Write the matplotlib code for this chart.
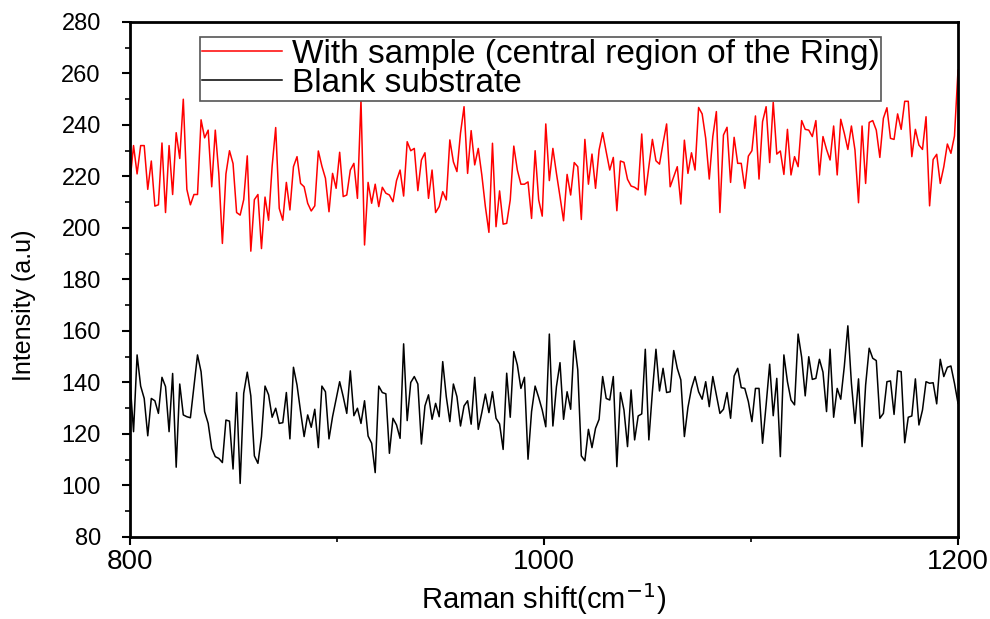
# -*- coding: utf-8 -*-
# Raman spectra: sample (central region of the ring) vs blank substrate

import numpy as np
import matplotlib
matplotlib.use('Agg')
import matplotlib.pyplot as plt
from matplotlib.ticker import MultipleLocator

shift_start = 800
shift_stop = 1200

sample_intensity = [
    218, 232, 221, 232, 232, 215, 226, 208.5, 209, 233, 206, 232, 213, 237, 227, 250, 215, 209, 213, 213,
    242, 235, 238, 216, 238, 221, 194, 221, 230, 225, 206, 205, 211, 228, 191, 211, 213, 192,
    212, 203, 224, 239, 207.6, 203, 217.7, 207, 223.8, 227.7, 217.3, 216, 209.6, 206.6, 208.6, 229.9, 224, 219.3, 206.3, 221.2,
    215.4, 229.4, 212.2, 212.8, 222.5, 225.1, 211.5, 249.7, 193.4, 217.7, 209.6, 217, 208.3, 215.8, 213.5, 212.8, 210.2, 218.4, 222.5,
    212.4, 233.5, 230, 230.9, 214.5, 226.4, 229.2, 211.5, 222.5, 206, 208.3, 214.1, 210.9, 234.2, 225.7, 221.9, 236.8, 247.1, 221.2, 237.8,
    224.5, 230.9, 220.6, 208.3, 198.3, 232.9, 200.5, 214.4, 201.5, 201.8, 210.9, 231.8, 222.5, 217, 217, 217.9, 203.7, 230, 210.9,
    204.6, 240.4, 218.4, 230.9, 221.2, 212.2, 202.8, 220.8, 212.8, 225.4, 223.8, 203.3, 234.4, 217, 228.7, 215.4, 230.3, 237, 229.6, 222.5,
    227.4, 206.7, 226, 225.5, 218.9, 216.3, 215.8, 214.8, 236.5, 212.8, 223.8, 234.4, 226.1, 224.8, 232.9, 240.4, 216, 219.9, 223.8, 209.3,
    234.1, 221.2, 229.2, 222.5, 246.8, 244.3, 234.8, 219, 235.5, 245.2, 206, 236.1, 239.1, 217.7, 235.2, 225.1, 225.1, 215.4, 227.9, 230,
    243.5, 219, 241.3, 247.1, 225.4, 248.8, 228.7, 229.9, 220.8, 238.3, 220.6, 227.7, 223.8, 241.7, 238.3, 238, 235.5, 241.7, 220.6, 235.5,
    230.5, 226.4, 239.6, 220.6, 242.2, 236.8, 230.5, 239.6, 230.3, 209.8, 239.6, 217.3, 241, 241.7, 238, 227.4, 242.6, 246.7, 234.8,
    234.4, 244.3, 238.3, 249.2, 249.2, 227.7, 238.3, 232.2, 230.5, 243.2, 208.6, 226.6, 228.6, 217.3, 223.8, 232.6, 229, 235.7, 261.3,
]

blank_intensity = [
    140.7, 120.9, 150.7, 138.6, 133.8, 119.3, 133.8, 132.9, 128, 142, 138.4, 120.9, 143.5, 107.1, 139.4, 127.4, 126.7, 126.3, 138.4,
    150.7, 144.2, 128.7, 124.1, 114.4, 111.2, 110.5, 108.9, 125.4, 125, 106.4, 136.1, 100.8, 135.8, 144, 134.8, 111.5, 108.6, 119,
    138.6, 135.2, 126.5, 130, 124.1, 124.4, 136.1, 118.1, 145.9, 139, 128.7, 119, 127.4, 122.6, 129.6, 114.7, 138.6, 136.4, 118.1, 126.7,
    133.5, 140.3, 134.5, 128, 144.5, 127.1, 130, 124.1, 132.9, 119.2, 116.4, 105, 138.6, 136.1, 135.6, 112.5, 126.1, 123.5, 118.3,
    155, 125.2, 140, 142.3, 139.4, 116.1, 130.9, 135.2, 125.7, 131.9, 126.7, 148.1, 134.5, 124.8, 139.4, 134.5, 123.1, 130.9, 132.9, 123.8,
    142, 121.8, 128.3, 135.5, 128.3, 136.4, 126.1, 123.9, 114, 143.6, 126.5, 152, 146.8, 137.7, 142, 110.2, 128.7, 138.6, 134.2,
    129.3, 122.8, 158.8, 123.1, 138.4, 147.7, 125.7, 136.4, 129.6, 156.2, 144.9, 111.5, 109.6, 121.8, 114.7, 122.2, 125.7, 142.3, 133.8, 133.2,
    142.3, 107.3, 136.1, 129.3, 115.1, 137.1, 117.7, 127, 127.8, 152.9, 117.7, 136.4, 152.9, 136.7, 145.5, 136.1, 136.4, 152.4, 145.5, 141,
    119, 130.3, 137.7, 142.3, 136.4, 133.5, 140.3, 130.6, 142.3, 135.2, 128, 129.6, 136.1, 126.1, 142.5, 145.5, 138, 137.7, 132.6, 124.8,
    137.7, 137.7, 116.4, 131.3, 147.1, 127.1, 141.6, 111.2, 150.7, 140.3, 133.2, 131.3, 158.8, 149.8, 134.8, 150, 141.2, 141.6, 149, 144,
    128.7, 152.9, 126.5, 137.7, 133.5, 146.2, 162, 139.7, 124.1, 141.4, 115.1, 139, 153.3, 149.4, 148.5, 126.1, 128, 140.3, 140.6,
    127.6, 144.5, 144.2, 116.6, 126.5, 127, 141.4, 123.5, 129.3, 140.3, 139.7, 139.9, 131.7, 149, 142.3, 145.9, 146.4, 139.7, 131.9,
]

sample_label = 'With sample (central region of the Ring)'
blank_label = 'Blank substrate'

plt.rcParams['font.family'] = ['Liberation Sans', 'DejaVu Sans']

# Raman shift axis
shift_sample = np.linspace(shift_start, shift_stop, len(sample_intensity))
shift_blank = np.linspace(shift_start, shift_stop, len(blank_intensity))

fig = plt.figure(figsize=(9.9, 6.19), dpi=100)
ax = fig.add_axes([0.1313, 0.1325, 0.8364, 0.832])

ax.plot(shift_sample, sample_intensity, c='red', linewidth=1.1, label=sample_label)
ax.plot(shift_blank, blank_intensity, c='black', linewidth=1.1, label=blank_label)

ax.set_xlim([800, 1200])
ax.set_ylim([80, 280])

ax.xaxis.set_major_locator(MultipleLocator(200))
ax.xaxis.set_minor_locator(MultipleLocator(100))
ax.yaxis.set_major_locator(MultipleLocator(20))
ax.yaxis.set_minor_locator(MultipleLocator(10))

ax.tick_params(which='major', direction='out', length=6, width=1.5)
ax.tick_params(which='minor', direction='out', length=3.5, width=1.2)
ax.tick_params(axis='x', which='major', pad=3, labelsize=20)
ax.tick_params(axis='y', which='major', pad=15, labelsize=17)

for side in ['left', 'right', 'top', 'bottom']:
    ax.spines[side].set_linewidth(2)

ax.set_xlabel('Raman shift(cm$^{-1}$)', fontsize=21, labelpad=4)
ax.set_ylabel('Intensity (a.u)', fontsize=18)
ax.yaxis.set_label_coords(-0.113, 0.45)

leg = ax.legend(loc='upper left', bbox_to_anchor=(200 / 990, 1 - 37 / 619),
                bbox_transform=fig.transFigure, fontsize=24, fancybox=False,
                framealpha=1, edgecolor='#555555', handlelength=2.4,
                borderpad=0.05, labelspacing=-0.05, handletextpad=0.3,
                borderaxespad=0)
leg.get_frame().set_linewidth(1.2)

plt.savefig('out.png', dpi=100)
plt.close()
